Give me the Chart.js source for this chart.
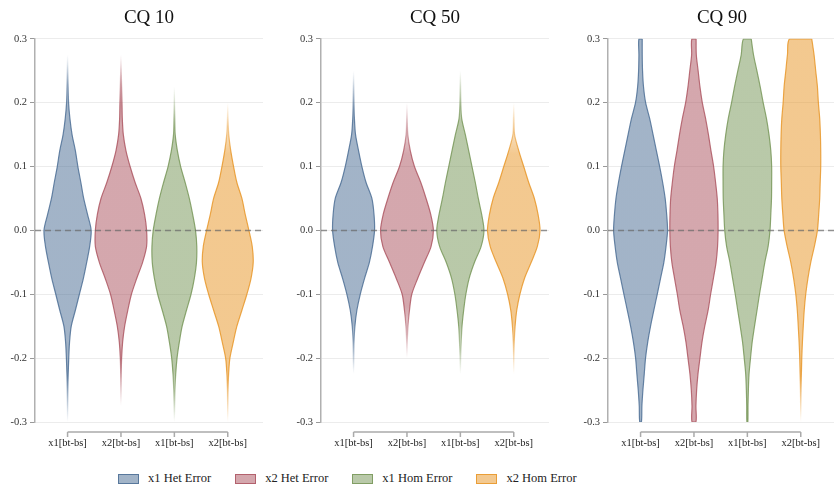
<!DOCTYPE html>
<html>
<head>
<meta charset="utf-8">
<script src="https://cdn.jsdelivr.net/npm/chart.js@4.4.1/dist/chart.umd.min.js"></script>
<style>
  body { margin: 0; width: 834px; height: 486px; overflow: hidden; background: #fff; position: relative; }
  .panel { position: absolute; top: 0; width: 263px; height: 460px; }
  #legend { position: absolute; left: 118px; top: 471px; display: flex; align-items: center;
            font-family: 'Liberation Serif', serif; font-size: 12.5px; color: #222; }
  .item { display: flex; align-items: center; margin-right: 24px; }
  .box { width: 19px; height: 8px; border: 1.5px solid; margin-right: 9px; }
</style>
</head>
<body>
<div class="panel" style="left:0px"><canvas id="cq10" width="263" height="460"></canvas></div>
<div class="panel" style="left:286px"><canvas id="cq50" width="263" height="460"></canvas></div>
<div class="panel" style="left:573px"><canvas id="cq90" width="263" height="460"></canvas></div>
<div id="legend"></div>
<script>
// shared y grid of the density estimates
const yGrid = [0.3, 0.275, 0.25, 0.225, 0.2, 0.175, 0.15, 0.125, 0.1, 0.075, 0.05, 0.025, 0,
  -0.025, -0.05, -0.075, -0.1, -0.125, -0.15, -0.175, -0.2, -0.225, -0.25, -0.275, -0.3];

const xLabels = ['x1[bt-bs]', 'x2[bt-bs]', 'x1[bt-bs]', 'x2[bt-bs]'];
const seriesNames = ['x1 Het Error', 'x2 Het Error', 'x1 Hom Error', 'x2 Hom Error'];
const seriesRgb = ['70,105,145', '170,80,92', '115,147,83', '231,147,33'];

// half widths of each violin (hundredths of category spacing), null = no data
const cq10x1Het = [null, 0, 0.6, 1.2, 1.9, 4.4, 8.4, 14.6, 19.3, 24.9, 30.2, 37.4, 44.2, 41.4, 35.8, 29.6, 22.1, 14.6, 6.9, 3.7, 2.2, 1.2, 0.6, 0.3, 0];
const cq10x2Het = [null, 0, 0.6, 1.2, 1.9, 2.5, 4.4, 9.3, 17.1, 26.5, 37.4, 44.2, 48, 48, 40.5, 29.6, 19.6, 12.8, 6.9, 3.1, 1.2, 0.6, 0.3, 0, null];
const cq10x1Hom = [null, null, null, 0, 0.3, 0.9, 1.6, 5.6, 11.8, 20.2, 28, 34.3, 39.6, 42, 41.4, 37.4, 31.2, 22.7, 14.6, 9.3, 5, 2.5, 1.2, 0.6, 0];
const cq10x2Hom = [null, null, null, null, 0, 0.6, 1.9, 5.6, 10.9, 17.1, 26.5, 32.7, 39.6, 45.8, 47.7, 43.6, 35.8, 26.5, 17.1, 10.3, 4, 1.6, 0.6, 0.3, 0];

const cq50x1Het = [null, null, 0, 0.5, 0.9, 1.6, 3.7, 9.3, 15.6, 23.4, 34.3, 38.3, 39.3, 35.5, 29.6, 20.6, 12.5, 6.2, 2.5, 0.9, 0.5, 0, null, null, null];
const cq50x2Het = [null, null, null, null, 0, 0.6, 1.6, 6.2, 14, 25.9, 35.8, 44.5, 49.5, 45.2, 32.7, 20.2, 9, 4.7, 1.9, 0.6, 0, null, null, null, null];
const cq50x1Hom = [null, null, 0, 0.5, 0.9, 2.5, 9.3, 15.6, 21.8, 28, 33.6, 39.9, 44.2, 38.9, 26.5, 16.5, 10.3, 6.2, 3.1, 1.6, 0.6, 0, null, null, null];
const cq50x2Hom = [null, null, null, null, 0, 0.6, 1.6, 9.3, 18.7, 28, 38.6, 45.5, 49.2, 44.2, 32.7, 20.2, 11.5, 5.6, 2.5, 0.9, 0.3, 0, null, null, null];

const cq90x1Het = [3.1, 3.1, 3.7, 5.5, 9.5, 17.1, 23.4, 29.6, 35.8, 41.4, 46.1, 48.9, 50.5, 47.7, 43.6, 37.4, 31.2, 24.9, 18.7, 13.4, 9.3, 6.9, 4.4, 2.5, 1.6];
const cq90x2Het = [4, 4.4, 7.8, 11.2, 15.6, 21.8, 27.1, 31.8, 36.8, 40.5, 43.6, 44.9, 45.2, 44.2, 41.4, 36.4, 31.2, 26.5, 20.2, 15, 11.2, 7.5, 5, 3.7, 3.7];
const cq90x1Hom = [7.2, 11.5, 17.8, 24, 29.6, 35.8, 40.5, 43.9, 45.5, 45.5, 45.2, 43.9, 42.4, 38.9, 32.7, 27.7, 22.7, 18.1, 13.4, 9, 5.9, 3.1, 1.9, 1.2, 0.9];
const cq90x2Hom = [20.6, 24.9, 28, 31.2, 33, 35.5, 36.8, 37.4, 37.4, 36.4, 35.5, 33.6, 31.2, 25.5, 18.7, 13.4, 9.3, 6.5, 4.7, 3.1, 1.9, 1.2, 0.6, 0.3, 0];

const panels = [
  { id: 'cq10', title: 'CQ 10', violins: [cq10x1Het, cq10x2Het, cq10x1Hom, cq10x2Hom] },
  { id: 'cq50', title: 'CQ 50', violins: [cq50x1Het, cq50x2Het, cq50x1Hom, cq50x2Hom] },
  { id: 'cq90', title: 'CQ 90', violins: [cq90x1Het, cq90x2Het, cq90x1Hom, cq90x2Hom] }
];

const FADE = 0.08; // how far the thin tails fade out
const serif = 'Liberation Serif';

// outline of one violin: right edge top->bottom, then left edge back up
function violinPoints(center, widths) {
  const right = [], left = [];
  const used = [];
  yGrid.forEach((y, i) => {
    if (widths[i] === null) return;
    used.push(i);
    right.push({ x: center + widths[i] / 100, y: y });
    left.push({ x: center - widths[i] / 100, y: y });
  });
  left.reverse();
  if (widths[used[used.length - 1]] === 0) left.shift();
  return right.concat(left, [right[0]]);
}

function fadeStyle(rgb, alpha) {
  return function (ctx) {
    const chart = ctx.chart;
    const ds = ctx.dataset;
    if (!chart.chartArea || !ds) return `rgba(${rgb},${alpha})`;
    const y = chart.scales.y;
    const top = y.getPixelForValue(ds.yTop);
    const bottom = y.getPixelForValue(ds.yBottom);
    const span = bottom - top;
    const fadePx = y.getPixelForValue(0) - y.getPixelForValue(FADE);
    const a = ds.fadeTop ? Math.min(fadePx / span, 0.45) : 0;
    const b = ds.fadeBottom ? Math.min(fadePx / span, 0.45) : 0;
    const g = chart.ctx.createLinearGradient(0, top, 0, bottom);
    g.addColorStop(0, `rgba(${rgb},${ds.fadeTop ? 0 : alpha})`);
    g.addColorStop(a, `rgba(${rgb},${alpha})`);
    g.addColorStop(1 - b, `rgba(${rgb},${alpha})`);
    g.addColorStop(1, `rgba(${rgb},${ds.fadeBottom ? 0 : alpha})`);
    return g;
  };
}

// dashed zero line and the bracket under the categories
const decorations = {
  id: 'decorations',
  afterDatasetsDraw(chart) {
    const { ctx, chartArea, scales: { y } } = chart;
    const y0 = y.getPixelForValue(0);
    ctx.save();
    ctx.strokeStyle = 'rgba(105,105,105,0.7)';
    ctx.lineWidth = 1.5;
    ctx.setLineDash([6, 4]);
    ctx.beginPath();
    ctx.moveTo(chartArea.left, y0);
    ctx.lineTo(chartArea.right, y0);
    ctx.stroke();
    ctx.restore();
  },
  afterDraw(chart) {
    const { ctx, chartArea, scales: { x } } = chart;
    const yb = chartArea.bottom + 10;
    ctx.save();
    ctx.strokeStyle = '#aaa';
    ctx.lineWidth = 1.5;
    ctx.beginPath();
    ctx.moveTo(x.getPixelForValue(0), yb);
    ctx.lineTo(x.getPixelForValue(xLabels.length - 1), yb);
    xLabels.forEach((_, i) => {
      const px = x.getPixelForValue(i);
      ctx.moveTo(px, yb);
      ctx.lineTo(px, yb + 5);
    });
    ctx.stroke();
    ctx.restore();
  }
};

panels.forEach(panel => {
  const datasets = panel.violins.map((widths, i) => {
    const defined = yGrid.filter((_, k) => widths[k] !== null);
    const firstK = widths.findIndex(w => w !== null);
    let lastK = widths.length - 1;
    while (widths[lastK] === null) lastK--;
    return {
      label: seriesNames[i],
      data: violinPoints(i, widths),
      yTop: defined[0],
      yBottom: defined[defined.length - 1],
      fadeTop: widths[firstK] === 0,
      fadeBottom: widths[lastK] === 0,
      fill: 'shape',
      backgroundColor: fadeStyle(seriesRgb[i], 0.5),
      borderColor: fadeStyle(seriesRgb[i], 0.8),
      borderWidth: 1.2,
      tension: 0.3,
      pointRadius: 0
    };
  });

  new Chart(document.getElementById(panel.id), {
    type: 'line',
    data: { datasets },
    plugins: [decorations],
    options: {
      responsive: false,
      animation: false,
      events: [],
      layout: { padding: { top: 0, right: 0, bottom: 0, left: 0 } },
      plugins: {
        legend: { display: false },
        tooltip: { enabled: false },
        title: {
          display: true,
          text: panel.title,
          fullSize: false,
          color: '#111',
          font: { family: serif, size: 19, weight: 'normal' },
          padding: { top: 7, bottom: 9 }
        }
      },
      scales: {
        x: {
          type: 'linear',
          min: -0.61,
          max: 3.66,
          afterBuildTicks: s => { s.ticks = xLabels.map((_, i) => ({ value: i })); },
          afterFit: s => { s.height = 38; },
          grid: { display: false, drawTicks: false },
          border: { display: false },
          ticks: {
            padding: 15,
            autoSkip: false,
            maxRotation: 0,
            color: '#222',
            font: { family: serif, size: 10.5 },
            callback: v => xLabels[v]
          }
        },
        y: {
          min: -0.3,
          max: 0.3,
          afterFit: s => { s.width = 35; },
          grid: { color: '#ececec', tickColor: '#999', tickLength: 5, lineWidth: 1 },
          border: { display: true, color: '#b0b0b0', width: 1.5 },
          ticks: {
            stepSize: 0.1,
            padding: 3,
            color: '#333',
            font: { family: serif, size: 10.5 },
            callback: v => (Math.abs(v) < 1e-9 ? 0 : v).toFixed(1)
          }
        }
      }
    }
  });
});

// legend shared by the three panels
const legend = document.getElementById('legend');
seriesNames.forEach((name, i) => {
  const item = document.createElement('div');
  item.className = 'item';
  item.innerHTML = `<span class="box" style="background:rgba(${seriesRgb[i]},0.5);border-color:rgba(${seriesRgb[i]},0.8)"></span><span>${name}</span>`;
  legend.appendChild(item);
});
</script>
</body>
</html>
